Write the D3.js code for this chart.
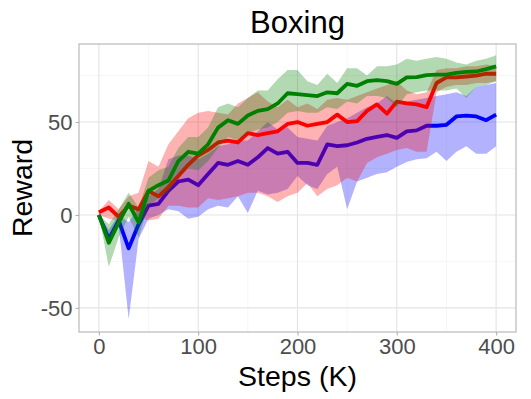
<!DOCTYPE html>
<html>
<head>
<meta charset="utf-8">
<script src="https://cdn.jsdelivr.net/npm/d3@7"></script>
<style>
  html, body { margin: 0; padding: 0; background: #ffffff; }
  svg { display: block; font-family: "Liberation Sans", Arial, Helvetica, sans-serif; }
</style>
</head>
<body>
<svg id="chart" width="531" height="399"></svg>
<script>
// ---------- data ----------
const title = "Boxing";
const xLabel = "Steps (K)";
const yLabel = "Reward";
const xTicks = [0, 100, 200, 300, 400];
const yTicks = [-50, 0, 50];

const steps = [0, 10, 20, 30, 40, 50, 60, 70, 80, 90, 100, 110, 120, 130, 140, 150, 160, 170, 180, 190, 200,
               210, 220, 230, 240, 250, 260, 270, 280, 290, 300, 310, 320, 330, 340, 350, 360, 370, 380, 390, 400];

const blueMean  = [0, -13, -3, -18, -5, 5, 6, 13, 18, 19, 16, 22, 28, 27, 29, 27, 31, 36, 33, 34, 28,
                   28, 27, 38, 37, 37.5, 39, 41, 42, 43, 41.5, 45, 45.5, 48, 48, 48.5, 53, 53.5, 53, 51, 54];
const blueLow   = [0, -16, -6, -56, -13, -2, 0, 3, 2, -2, -1, 3, 5, 4, 10, 1, 13, 11, 12, 14, 21,
                   16, 14, 22, 26, 3, 18, 20, 22, 23, 26, 28.5, 30, 30.5, 34, 29, 34, 37, 33, 33, 37];
const blueHigh  = [0, -8, 0, -4, 4, 10, 14, 30, 32, 32, 30, 33, 37, 38, 40, 40, 45, 50, 46, 47, 42,
                   41, 40, 48, 50, 52, 55, 58, 60, 64, 60, 61, 62, 63, 64, 65, 66, 64, 69, 70, 71];

const redMean   = [1.5, 4, -1, 5, 3, 13, 10, 15, 21, 27, 32, 35, 39, 40, 39, 44, 43, 44, 45, 49, 50,
                   48, 49, 50, 54, 50, 50.5, 56, 59.5, 54.5, 61, 60, 59.5, 58, 71, 74, 74, 74.5, 75, 76, 76];
const redLow    = [0, -2, -3, 4, -1, -3, -2, 5, 5, 4, 4, 9, 8, 9, 10, 12, 12, 10, 7, 10, 12,
                   17, 10, 14, 16, 20, 18, 28, 31, 33, 35, 36, 34, 34, 66, 69, 70, 70, 71, 71, 72];
const redHigh   = [2, 8, 3, 10, 12, 29, 26, 38, 45, 52, 55, 56, 55, 54, 60, 63, 66, 61, 58, 62, 58,
                   60, 57, 62, 63, 62, 64, 66, 68, 70, 72, 67, 65, 66, 78, 79, 79, 80, 80, 81, 80];

const greenMean = [0, -15, -4, 6, -4, 13, 16, 18.5, 29, 34, 33, 38, 47, 51, 49, 53.5, 56, 57, 60, 65.5, 65,
                   64.5, 64, 66, 65.5, 70.5, 69.5, 72, 72.5, 72, 70.5, 74, 74.2, 75.3, 75.5, 75.5, 76.5, 77, 77.2, 78.5, 80];
const greenLow  = [0, -28, -12, -1, -12, 5, 9, 12, 20, 25, 24, 29, 36, 42, 40, 44, 46, 47, 50, 55, 56,
                   55, 55, 58, 57, 61, 60, 64, 64, 63, 58, 65, 66, 67, 67, 67, 68, 63, 69, 70, 72];
const greenHigh = [0, -5, 3, 12, 4, 20, 24, 26, 36, 42, 42, 47, 58, 60, 58, 63, 67, 67, 73, 78, 78,
                   72, 70, 76, 71, 79, 79, 75, 80, 80, 81, 84, 83, 84, 85, 84, 82, 81, 83, 84, 86];

const seriesColors = ["#0000ff", "#ff0000", "#008000"];

// ---------- layout ----------
const svg = d3.select("#chart");
const W = 531, H = 399;
const m = { left: 79, right: 15, top: 44, bottom: 67 };
const pw = W - m.left - m.right, ph = H - m.top - m.bottom;

const x = d3.scaleLinear().domain([-20, 420]).range([m.left, m.left + pw]);
const y = d3.scaleLinear().domain([-63, 92]).range([m.top + ph, m.top]);

// grid
const g = svg.append("g");
const minorX = [50, 150, 250, 350];
const minorY = [-25, 25, 75];
g.selectAll("line.mx").data(minorX).join("line")
  .attr("x1", d => x(d)).attr("x2", d => x(d)).attr("y1", m.top).attr("y2", m.top + ph)
  .attr("stroke", "#f0f0f0").attr("stroke-width", 0.6);
g.selectAll("line.my").data(minorY).join("line")
  .attr("y1", d => y(d)).attr("y2", d => y(d)).attr("x1", m.left).attr("x2", m.left + pw)
  .attr("stroke", "#f0f0f0").attr("stroke-width", 0.6);
g.selectAll("line.gx").data(xTicks).join("line")
  .attr("x1", d => x(d)).attr("x2", d => x(d)).attr("y1", m.top).attr("y2", m.top + ph)
  .attr("stroke", "#e3e3e3").attr("stroke-width", 1.1);
g.selectAll("line.gy").data(yTicks).join("line")
  .attr("y1", d => y(d)).attr("y2", d => y(d)).attr("x1", m.left).attr("x2", m.left + pw)
  .attr("stroke", "#e3e3e3").attr("stroke-width", 1.1);

// series
const series = [
  { mean: blueMean, low: blueLow, high: blueHigh, color: seriesColors[0] },
  { mean: redMean, low: redLow, high: redHigh, color: seriesColors[1] },
  { mean: greenMean, low: greenLow, high: greenHigh, color: seriesColors[2] }
];

const plot = svg.append("g");
series.forEach(s => {
  const pts = steps.map((k, i) => ({ k, m: s.mean[i], lo: s.low[i], hi: s.high[i] }));
  plot.append("path").datum(pts)
    .attr("fill", "none").attr("stroke", s.color).attr("stroke-width", 3.8)
    .attr("stroke-linejoin", "round").attr("stroke-linecap", "butt")
    .attr("d", d3.line().x(d => x(d.k)).y(d => y(d.m)));
  plot.append("path").datum(pts)
    .attr("fill", s.color).attr("fill-opacity", 0.3).attr("stroke", "none")
    .attr("d", d3.area().x(d => x(d.k)).y0(d => y(d.lo)).y1(d => y(d.hi)));
});

// panel border
svg.append("rect").attr("x", m.left).attr("y", m.top).attr("width", pw).attr("height", ph)
  .attr("fill", "none").attr("stroke", "#b3b3b3").attr("stroke-width", 1.1);

// axes
const fmt = d => String(d);
const xAxis = svg.append("g").attr("transform", `translate(0,${m.top + ph})`)
  .call(d3.axisBottom(x).tickValues(xTicks).tickSize(3.5).tickPadding(3).tickFormat(fmt));
const yAxis = svg.append("g").attr("transform", `translate(${m.left},0)`)
  .call(d3.axisLeft(y).tickValues(yTicks).tickSize(3.5).tickPadding(3).tickFormat(fmt));
[xAxis, yAxis].forEach(a => {
  a.select(".domain").remove();
  a.selectAll(".tick line").attr("stroke", "#b3b3b3").attr("stroke-width", 1.1);
  a.selectAll(".tick text").attr("fill", "#4d4d4d").attr("font-size", 22)
    .attr("font-family", "'Liberation Sans', Arial, sans-serif");
});
xAxis.selectAll(".tick text").attr("dy", "0.72em");
yAxis.selectAll(".tick text").attr("dy", "0.36em");

// titles
svg.append("text").attr("x", m.left + pw / 2).attr("y", 33).attr("text-anchor", "middle")
  .attr("font-size", 31).attr("fill", "#000").text(title);
svg.append("text").attr("x", m.left + pw / 2).attr("y", 386).attr("text-anchor", "middle")
  .attr("font-size", 28.5).attr("fill", "#000").text(xLabel);
svg.append("text").attr("transform", `translate(32,${m.top + ph / 2}) rotate(-90)`)
  .attr("text-anchor", "middle").attr("font-size", 28.5).attr("fill", "#000").text(yLabel);
</script>
</body>
</html>
